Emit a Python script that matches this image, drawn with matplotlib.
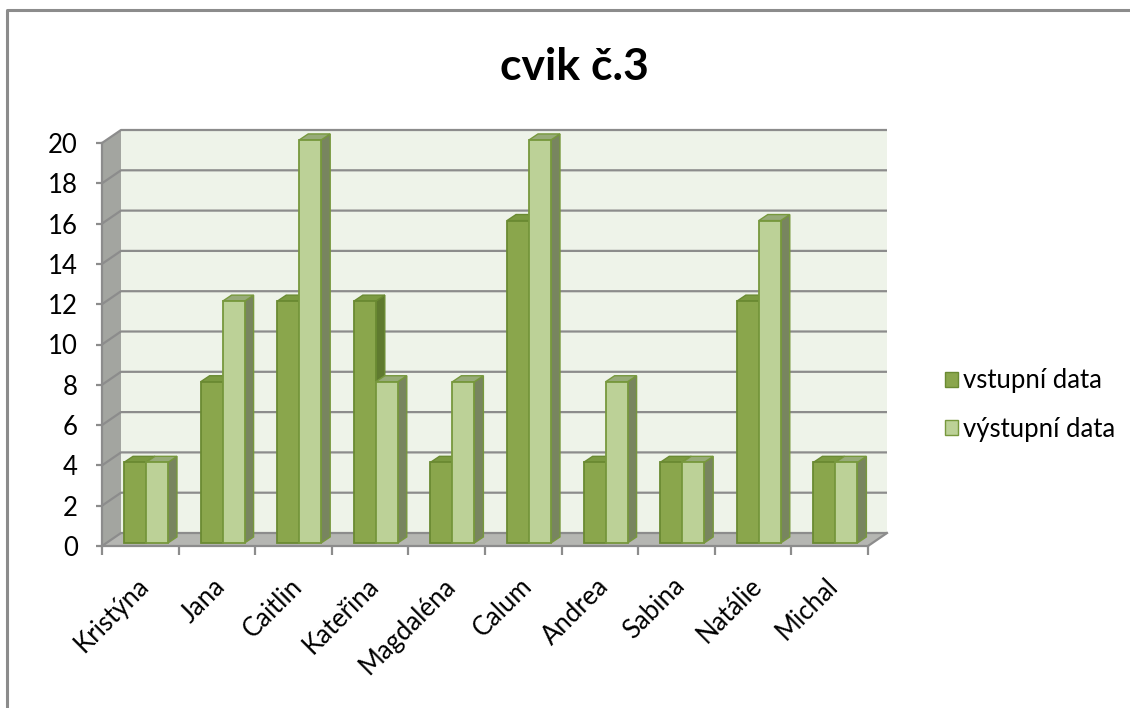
import matplotlib
matplotlib.use("Agg")
import matplotlib.pyplot as plt
from matplotlib.patches import Polygon, Patch
from matplotlib.lines import Line2D

plt.rcParams['font.family'] = ['Lato', 'DejaVu Sans']

names = ['Kristýna', 'Jana', 'Caitlin', 'Kateřina', 'Magdaléna',
         'Calum', 'Andrea', 'Sabina', 'Natálie', 'Michal']
vstup = [4, 8, 12, 12, 4, 16, 4, 4, 12, 4]
vystup = [4, 12, 20, 8, 8, 20, 8, 4, 16, 4]
series_names = ['vstupní data', 'výstupní data']
yticks = list(range(0, 21, 2))

# colours: front, top, side, edge
dark = ('#8aa64c', '#7b9a41', '#5f7a2f', '#6a8a32')
light = ('#bcd197', '#97ab78', '#78855f', '#77983d')
grid_c = '#8c8c8c'

fig = plt.figure(figsize=(11.3, 7.08), dpi=100)
ax = fig.add_axes([102 / 1130, 1 - 546 / 708, 766 / 1130, 403 / 708])
ax.set_xlim(0, len(names))
ax.set_ylim(0, 20)

# fake 3D depth (in data units)
ddx, ddy = 0.248, 0.645
n = len(names)

# back wall, side wall, floor
ax.add_patch(Polygon([(ddx, ddy), (n + ddx, ddy), (n + ddx, 20 + ddy), (ddx, 20 + ddy)],
                     closed=True, fc='#eef3e9', ec='none', clip_on=False, zorder=0))
ax.add_patch(Polygon([(0, 0), (ddx, ddy), (ddx, 20 + ddy), (0, 20)],
                     closed=True, fc='#a3a5a0', ec='none', clip_on=False, zorder=0))
ax.add_patch(Polygon([(0, 0), (n, 0), (n + ddx, ddy), (ddx, ddy)],
                     closed=True, fc='#b5b6b2', ec='none', clip_on=False, zorder=0.5))

for t in yticks:
    ax.plot([0, ddx, n + ddx], [t, t + ddy, t + ddy], color=grid_c, lw=1.6,
            clip_on=False, zorder=0.6, solid_capstyle='butt')
ax.plot([n, n + ddx], [0, ddy], color=grid_c, lw=1.6, clip_on=False, zorder=0.6)


def bar3d(x0, v, cols, z):
    w, bx, by, base = 0.287, 0.118, 0.30, 0.15
    top = base + v
    ec = cols[3]
    ax.add_patch(Polygon([(x0 + w, base), (x0 + w + bx, base + by), (x0 + w + bx, top + by), (x0 + w, top)],
                         closed=True, fc=cols[2], ec=ec, lw=1.0, clip_on=False, zorder=z))
    ax.add_patch(Polygon([(x0, top), (x0 + w, top), (x0 + w + bx, top + by), (x0 + bx, top + by)],
                         closed=True, fc=cols[1], ec=ec, lw=1.0, clip_on=False, zorder=z))
    ax.add_patch(Polygon([(x0, base), (x0 + w, base), (x0 + w, top), (x0, top)],
                         closed=True, fc=cols[0], ec=ec, lw=1.3, clip_on=False, zorder=z))


for i in range(n):
    bar3d(i + 0.287, vstup[i], dark, 2)
    bar3d(i + 0.574, vystup[i], light, 3)

# axes
for s in ['top', 'right']:
    ax.spines[s].set_visible(False)
ax.spines['left'].set_color(grid_c)
ax.spines['bottom'].set_color(grid_c)
ax.spines['left'].set_linewidth(1.6)
ax.spines['bottom'].set_linewidth(1.6)
ax.set_yticks(yticks)
ax.set_xticks(range(n + 1))
ax.set_xticklabels([])
ax.tick_params(axis='y', length=4.5, width=1.6, color=grid_c, labelsize=18.5, pad=13)
ax.tick_params(axis='x', length=6.5, width=1.6, color=grid_c)
ax.set_facecolor('none')

for i, nm in enumerate(names):
    ax.text(i + 0.56, -1.8, nm, rotation=45, ha='right', va='center',
            rotation_mode='anchor', fontsize=18.5)

fig.text(0.508, 1 - 67 / 708, 'cvik č.3', ha='center', va='center',
         fontsize=32, fontweight='bold')

handles = [Patch(fc=dark[0], ec=dark[3]), Patch(fc=light[0], ec=light[3])]
fig.legend(handles, series_names, loc='center left', bbox_to_anchor=(0.836, 0.428),
           frameon=False, fontsize=18.5, handlelength=0.5, handleheight=0.5,
           handletextpad=0.2, labelspacing=0.9, borderpad=0, borderaxespad=0)

# outer frame (left and top)
fig.add_artist(Line2D([7 / 1130, 7 / 1130, 1], [0, 1 - 10 / 708, 1 - 10 / 708],
                      transform=fig.transFigure, color='#8c8c8c', lw=2.2))

fig.savefig('out.png', dpi=100)
